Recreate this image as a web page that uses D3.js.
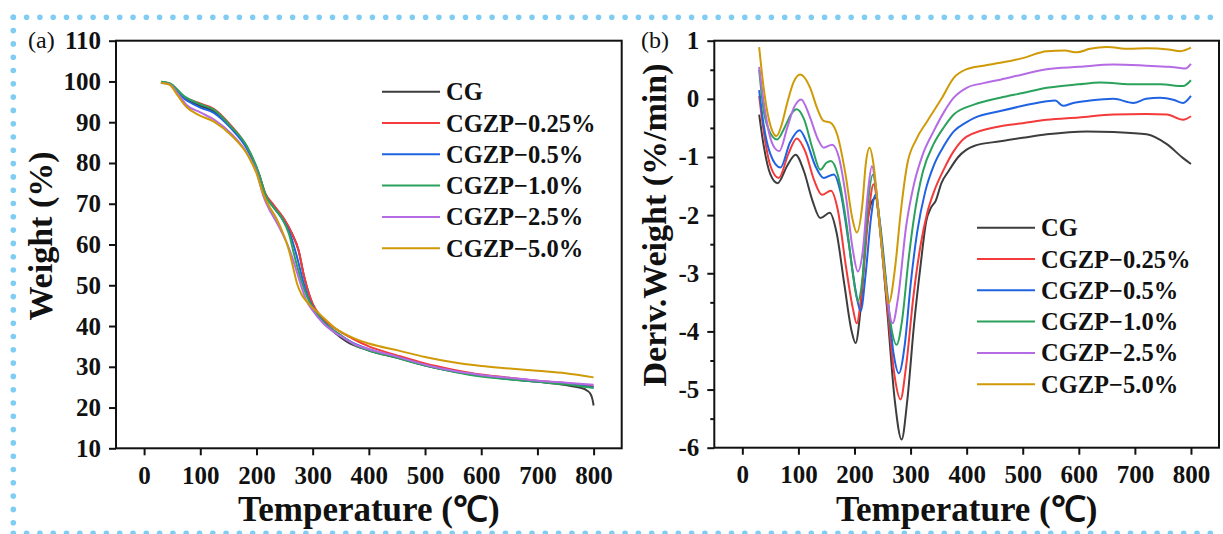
<!DOCTYPE html>
<html><head><meta charset="utf-8">
<script src="https://cdn.jsdelivr.net/npm/d3@7"></script>
<style>html,body{margin:0;padding:0;background:#fff;}svg{display:block;}</style>
</head><body>
<svg id="c" width="1223" height="534"></svg>
<script>
// ---------- DATA ----------
const seriesNames = ["CG","CGZP−0.25%","CGZP−0.5%","CGZP−1.0%","CGZP−2.5%","CGZP−5.0%"];
const seriesColors = ["#3d3d3d","#f43a3a","#1f63e2","#2ba25c","#b56be4","#cf9a06"];

const tgaXTicks = [0,100,200,300,400,500,600,700,800];
const tgaYTicks = [10,20,30,40,50,60,70,80,90,100,110];
const dtgXTicks = [0,100,200,300,400,500,600,700,800];
const dtgYTicks = [-6,-5,-4,-3,-2,-1,0,1];
const dtgYMinor = [-5.5,-4.5,-3.5,-2.5,-1.5,-0.5,0.5];

// TGA: [temperature, weight %]
const tga_CG = [[30,99.8],[45,99.4],[71,96.0],[100,94.0],[124,92.7],[154,89.0],[183,83.8],[204,77.4],[216,72.3],[230,69.6],[249,66.2],[262,63.0],[275,58.5],[285,52.0],[293,48.0],[300,45.3],[315,41.8],[340,38.3],[360,36.2],[400,34.0],[450,32.2],[500,30.3],[550,28.9],[600,27.8],[650,27.0],[700,26.3],[750,25.5],[775,24.9],[788,24.2],[795,23.2],[798,22.0],[800,20.5]];
const tga_025 = [[30,99.8],[45,99.5],[71,96.3],[100,94.6],[124,93.3],[154,89.3],[183,84.0],[204,77.4],[216,72.5],[230,69.8],[249,66.3],[262,63.0],[275,58.5],[285,52.0],[293,48.0],[300,45.5],[315,42.3],[340,39.4],[370,37.0],[400,35.0],[450,32.8],[500,30.8],[550,29.3],[600,28.1],[650,27.3],[700,26.6],[750,26.0],[800,25.2]];
const tga_05 = [[30,99.8],[45,99.4],[71,95.8],[100,93.6],[124,92.3],[154,88.6],[183,83.5],[204,77.3],[216,72.0],[230,69.2],[247,66.0],[260,62.5],[272,57.0],[283,51.0],[292,47.0],[300,44.8],[315,41.8],[340,38.6],[370,36.0],[400,34.3],[450,32.4],[500,30.4],[550,28.9],[600,27.8],[650,27.0],[700,26.4],[750,25.8],[800,25.0]];
const tga_10 = [[30,99.9],[45,99.6],[71,96.4],[100,94.4],[124,93.1],[154,89.0],[183,84.1],[204,77.6],[216,72.2],[228,69.5],[245,66.5],[258,62.5],[268,57.0],[280,51.0],[290,47.2],[300,44.5],[320,40.9],[350,37.8],[375,35.4],[400,34.0],[450,32.2],[500,30.3],[550,28.8],[600,27.6],[650,26.9],[700,26.3],[750,25.7],[800,24.8]];
const tga_25 = [[30,99.6],[45,99.3],[60,97.0],[75,94.3],[100,92.4],[125,90.6],[155,87.2],[185,82.0],[200,77.8],[212,72.0],[222,68.8],[233,66.1],[245,63.0],[258,59.0],[268,55.0],[278,50.5],[288,46.5],[300,43.8],[320,40.5],[350,37.5],[375,35.5],[400,34.3],[450,32.5],[500,30.5],[550,29.0],[600,28.0],[650,27.3],[700,26.6],[750,26.1],[800,25.6]];
const tga_50 = [[30,99.7],[45,99.2],[60,96.5],[75,93.8],[95,91.9],[125,90.1],[155,86.8],[185,81.8],[200,77.5],[212,72.5],[222,69.5],[235,66.5],[248,62.5],[258,58.5],[265,54.5],[272,50.5],[280,47.8],[292,45.6],[315,42.6],[340,39.5],[370,37.2],[400,35.7],[455,33.9],[500,32.4],[550,31.1],[600,30.2],[650,29.6],[700,29.0],[750,28.4],[800,27.4]];

// DTG: [temperature, deriv. weight %/min]
const dtg_CG = [[30,-0.27],[38,-0.8],[50,-1.3],[63,-1.45],[80,-1.15],[95,-0.96],[110,-1.25],[125,-1.75],[139,-2.05],[156,-1.96],[168,-2.3],[182,-3.2],[195,-4.0],[202,-4.2],[210,-3.7],[222,-2.2],[232,-1.75],[238,-1.7],[245,-2.2],[258,-3.6],[272,-5.2],[284,-5.86],[294,-5.2],[306,-3.9],[318,-2.85],[328,-2.1],[336,-1.88],[345,-1.75],[355,-1.45],[368,-1.24],[385,-1.0],[413,-0.81],[460,-0.73],[500,-0.67],[543,-0.61],[614,-0.56],[662,-0.57],[721,-0.61],[757,-0.78],[786,-1.02],[800,-1.12]];
const dtg_025 = [[30,0.05],[38,-0.55],[50,-1.15],[65,-1.36],[82,-0.95],[97,-0.68],[112,-0.9],[128,-1.4],[142,-1.65],[158,-1.58],[170,-1.9],[185,-2.9],[197,-3.6],[204,-3.86],[213,-3.3],[226,-1.9],[234,-1.47],[243,-2.0],[258,-3.5],[272,-4.8],[282,-5.17],[292,-4.6],[305,-3.4],[318,-2.51],[330,-1.95],[342,-1.59],[360,-1.2],[377,-0.9],[400,-0.65],[460,-0.47],[500,-0.42],[543,-0.36],[600,-0.32],[662,-0.27],[720,-0.26],[757,-0.27],[786,-0.36],[800,-0.3]];
const dtg_05 = [[30,0.15],[38,-0.45],[50,-0.95],[68,-1.18],[85,-0.75],[102,-0.54],[115,-0.75],[130,-1.15],[145,-1.36],[163,-1.3],[175,-1.6],[190,-2.5],[202,-3.3],[211,-3.65],[220,-3.0],[230,-2.0],[237,-1.65],[245,-2.1],[258,-3.3],[270,-4.4],[279,-4.72],[290,-4.2],[300,-3.2],[312,-2.28],[326,-1.6],[342,-1.13],[360,-0.8],[377,-0.56],[400,-0.4],[413,-0.33],[460,-0.21],[500,-0.12],[543,-0.04],[558,-0.03],[572,-0.12],[590,-0.07],[620,-0.03],[662,0.0],[697,-0.07],[720,0.0],[745,0.02],[770,-0.02],[786,-0.07],[800,0.05]];
const dtg_10 = [[30,0.5],[38,-0.2],[48,-0.55],[62,-0.7],[75,-0.5],[88,-0.25],[97,-0.18],[110,-0.35],[125,-0.85],[139,-1.22],[150,-1.1],[158,-1.07],[170,-1.3],[185,-2.1],[197,-3.0],[206,-3.48],[215,-3.0],[224,-1.8],[233,-1.3],[240,-1.7],[252,-2.8],[265,-3.9],[275,-4.23],[285,-3.8],[296,-2.8],[306,-2.05],[322,-1.25],[341,-0.78],[360,-0.48],[377,-0.27],[413,-0.1],[460,0.02],[500,0.1],[543,0.19],[600,0.25],[638,0.28],[700,0.25],[745,0.25],[786,0.22],[800,0.32]];
const dtg_25 = [[30,0.55],[38,-0.05],[48,-0.6],[58,-0.85],[66,-0.9],[80,-0.5],[92,-0.15],[105,-0.01],[120,-0.3],[135,-0.7],[145,-0.84],[160,-0.79],[172,-1.0],[185,-1.7],[197,-2.6],[206,-2.97],[215,-2.6],[224,-1.6],[231,-1.16],[238,-1.5],[248,-2.5],[258,-3.4],[268,-3.86],[278,-3.4],[292,-2.2],[306,-1.47],[322,-0.95],[341,-0.56],[360,-0.22],[377,0.02],[400,0.19],[430,0.27],[460,0.33],[500,0.42],[543,0.51],[600,0.55],[662,0.59],[720,0.57],[760,0.55],[781,0.53],[790,0.52],[800,0.6]];
const dtg_50 = [[30,0.89],[38,0.19],[48,-0.38],[61,-0.64],[70,-0.45],[80,-0.07],[92,0.3],[103,0.42],[121,0.19],[133,-0.15],[145,-0.38],[157,-0.41],[169,-0.61],[184,-1.3],[196,-2.05],[204,-2.3],[214,-1.82],[220,-1.13],[227,-0.84],[234,-1.13],[243,-1.99],[252,-2.85],[261,-3.51],[273,-2.85],[282,-1.99],[294,-1.13],[310,-0.7],[330,-0.38],[355,0.0],[377,0.36],[400,0.51],[430,0.57],[460,0.62],[500,0.7],[543,0.82],[575,0.83],[596,0.8],[620,0.86],[650,0.89],[690,0.86],[721,0.87],[760,0.85],[781,0.82],[800,0.88]];

const tgaSeries = [tga_CG,tga_025,tga_05,tga_10,tga_25,tga_50];
const dtgSeries = [dtg_CG,dtg_025,dtg_05,dtg_10,dtg_25,dtg_50];

// ---------- DRAW ----------
const svg = d3.select("#c");
const FONT = "'Liberation Serif','Times New Roman',serif";

// dotted border
const border = svg.append("g").attr("stroke","#7fcdf3").attr("stroke-width",5.6)
  .attr("stroke-linecap","round").attr("stroke-dasharray","0 13.3").attr("fill","none");
border.append("line").attr("x1",13.3).attr("y1",17.3).attr("x2",1223).attr("y2",17.3);
border.append("line").attr("x1",13.3).attr("y1",17.3).attr("x2",13.3).attr("y2",534);
border.append("line").attr("x1",13.3).attr("y1",533.3).attr("x2",1223).attr("y2",533.3);

function panel(opts){
  const {x0,x1,y0,y1,xDomain,yDomain,xTicks,yTicks,yMinor,data,label,labelX,yTitle,yTitleX,yTitleY,legendX,legendY} = opts;
  const x = d3.scaleLinear().domain(xDomain).range([x0,x1]);
  const y = d3.scaleLinear().domain(yDomain).range([y1,y0]);
  const g = svg.append("g");

  const line = d3.line().x(d=>x(d[0])).y(d=>y(d[1])).curve(d3.curveMonotoneX);
  data.forEach((s,i)=>{
    g.append("path").datum(s).attr("d",line).attr("fill","none")
     .attr("stroke",seriesColors[i]).attr("stroke-width",2).attr("stroke-linejoin","round");
  });

  g.append("rect").attr("x",x0).attr("y",y0).attr("width",x1-x0).attr("height",y1-y0)
   .attr("fill","none").attr("stroke","#111").attr("stroke-width",2);

  const xa = g.append("g").attr("transform",`translate(0,${y1})`)
    .call(d3.axisBottom(x).tickValues(xTicks).tickSize(7).tickSizeOuter(0).tickPadding(11).tickFormat(d=>String(d)));
  const ya = g.append("g").attr("transform",`translate(${x0},0)`)
    .call(d3.axisLeft(y).tickValues(yTicks).tickSize(7).tickSizeOuter(0).tickPadding(8).tickFormat(d=>String(d)));
  if(yMinor){
    g.append("g").attr("transform",`translate(${x0},0)`)
     .call(d3.axisLeft(y).tickValues(yMinor).tickSize(4).tickSizeOuter(0).tickFormat(""))
     .call(a=>a.select(".domain").remove())
     .selectAll("line").attr("stroke","#111").attr("stroke-width",2);
  }
  [xa,ya].forEach(a=>{
    a.select(".domain").remove();
    a.selectAll("line").attr("stroke","#111").attr("stroke-width",2);
    a.selectAll("text").attr("font-family",FONT).attr("font-weight","bold").attr("font-size",25).attr("fill","#111");
  });

  g.append("text").attr("x",(x0+x1)/2).attr("y",521).attr("text-anchor","middle")
   .attr("font-family",FONT).attr("font-weight","bold").attr("font-size",35).attr("fill","#111")
   .text("Temperature (℃)");
  g.append("text").attr("transform",`translate(${yTitleX},${yTitleY}) rotate(-90)`).attr("text-anchor","middle")
   .attr("font-family",FONT).attr("font-weight","bold").attr("font-size",34).attr("fill","#111")
   .text(yTitle);
  g.append("text").attr("x",labelX).attr("y",48).attr("font-family",FONT).attr("font-size",24).attr("fill","#111").text(label);

  seriesNames.forEach((n,i)=>{
    const ly = legendY + i*31.3;
    g.append("line").attr("x1",legendX).attr("x2",legendX+58).attr("y1",ly).attr("y2",ly)
     .attr("stroke",seriesColors[i]).attr("stroke-width",2);
    g.append("text").attr("x",legendX+64).attr("y",ly+8.5).attr("font-family",FONT).attr("font-weight","bold")
     .attr("font-size",24.5).attr("fill","#111").text(n);
  });
}

panel({x0:116,x1:621.7,y0:40.7,y1:448.3,xDomain:[-50,850],yDomain:[10,110],
  xTicks:tgaXTicks,yTicks:tgaYTicks,yMinor:null,data:tgaSeries,label:"(a)",labelX:28,
  yTitle:"Weight (%)",yTitleX:52,yTitleY:236,legendX:382,legendY:91.7});
panel({x0:714.3,x1:1219,y0:40.7,y1:447.7,xDomain:[-50,850],yDomain:[-6,1],
  xTicks:dtgXTicks,yTicks:dtgYTicks,yMinor:dtgYMinor,data:dtgSeries,label:"(b)",labelX:641,
  yTitle:"Deriv.Weight (%/min)",yTitleX:666,yTitleY:225,legendX:977,legendY:227.7});
</script>
</body></html>
